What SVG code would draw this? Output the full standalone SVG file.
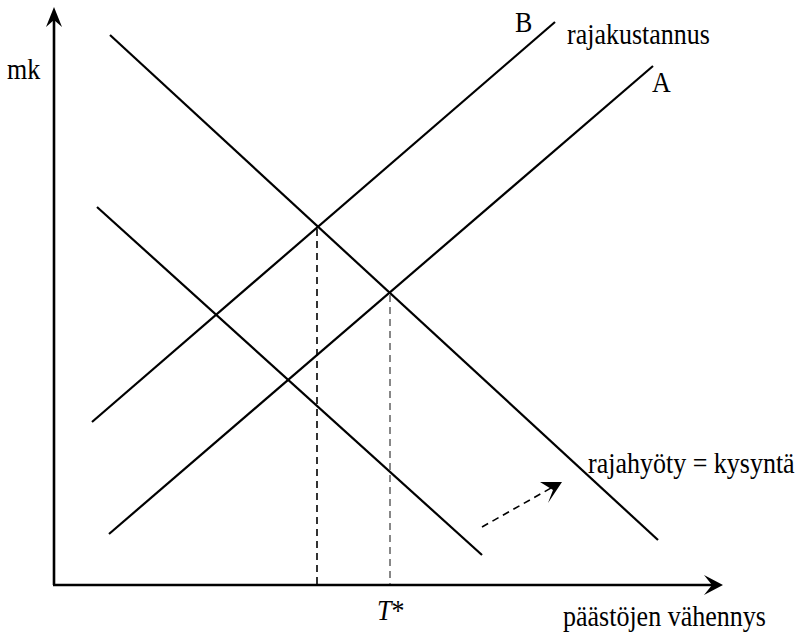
<svg xmlns="http://www.w3.org/2000/svg" width="796" height="635" viewBox="0 0 796 635">
  <style>
    .ln { stroke: #000; stroke-width: 2.2; fill: none; stroke-linecap: butt; }
    .ax { stroke: #000; stroke-width: 2.6; fill: none; }
    .dash { stroke: #000; stroke-width: 1.6; fill: none; stroke-dasharray: 7 5; }
    .dash2 { stroke: #555; stroke-width: 1.4; fill: none; stroke-dasharray: 7 5; }
    .lbl { font-family: "Liberation Serif", "Times New Roman", "DejaVu Serif", serif; font-size: 26px; fill: #000; }
  </style>
  <rect width="796" height="635" fill="#fff"/>

  <g id="axes">
    <line class="ax" x1="54" y1="585" x2="54" y2="14"/>
    <path d="M54,7 L62,27 L54,20 L46,27 Z" fill="#000"/>
    <line class="ax" x1="53" y1="585" x2="716" y2="585"/>
    <path d="M723,585 L704,575 L712,585 L704,595 Z" fill="#000"/>
  </g>

  <g id="connectors">
    <g id="curve-B">
      <line class="ln" x1="92" y1="422" x2="555" y2="22"/>
    </g>
    <g id="curve-A">
      <line class="ln" x1="109" y1="534" x2="653" y2="66"/>
    </g>
    <g id="demand-upper">
      <line class="ln" x1="110" y1="35" x2="658" y2="540"/>
    </g>
    <g id="demand-lower">
      <line class="ln" x1="97" y1="207" x2="482" y2="555"/>
    </g>
    <g id="dropdowns">
      <line class="dash" x1="317" y1="229" x2="317" y2="584"/>
      <line class="dash2" x1="390" y1="295" x2="390" y2="584"/>
    </g>
    <g id="shift-arrow">
      <line class="dash" x1="482" y1="527" x2="551" y2="488" stroke-dasharray="6 5"/>
      <path d="M562,482 L540,482 L553,490 L548,503 Z" fill="#000"/>
    </g>
  </g>

  <g id="label-mk"><text class="lbl" transform="translate(7,79) scale(1,1.12)">mk</text></g>
  <g id="label-B"><text class="lbl" transform="translate(515,32) scale(1,1.12)">B</text></g>
  <g id="label-rajakustannus"><text class="lbl" transform="translate(567,44) scale(1,1.12)">rajakustannus</text></g>
  <g id="label-A"><text class="lbl" transform="translate(652,92) scale(1,1.12)">A</text></g>
  <g id="label-rajahyoty"><text class="lbl" transform="translate(588,473) scale(1,1.12)">rajahyöty = kysyntä</text></g>
  <g id="label-T"><text class="lbl" transform="translate(377,620) scale(1,1.12)"><tspan font-style="italic">T</tspan>*</text></g>
  <g id="label-x"><text class="lbl" transform="translate(563,626) scale(1,1.12)">päästöjen vähennys</text></g>
</svg>
